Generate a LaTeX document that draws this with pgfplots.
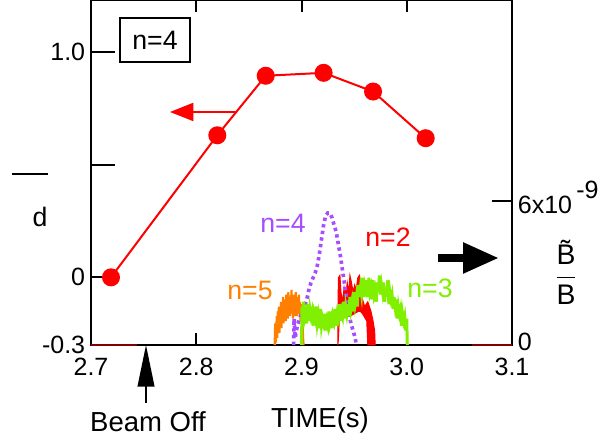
\documentclass[border=0pt]{standalone}
\usepackage{pgfplots}
\pgfplotsset{compat=1.18}
\usepackage{amsmath}
\usepackage{fontspec}
\setmainfont{Liberation Sans}
\usetikzlibrary{arrows.meta}
\definecolor{purp}{RGB}{166,77,255}
\definecolor{orng}{RGB}{255,128,0}
\definecolor{grn}{RGB}{128,240,0}
\definecolor{dred}{RGB}{128,0,0}
\pgfplotsset{base/.style={scale only axis, width=252.6pt, height=207pt,
  at={(54.6pt,59.4pt)}, anchor=south west, xmin=2.7, xmax=3.1, clip=false,
  axis line style={line width=1.2pt}, every tick/.style={line width=1.2pt, black},
  tick align=inside, tick label style={font=\fontsize{15}{18}\selectfont},
  /pgf/number format/assume math mode=true}}
\begin{document}
\begin{tikzpicture}
\useasboundingbox (0,0) rectangle (366pt,266.4pt);
% left axis (d)
\begin{axis}[base, ymin=-0.3, ymax=1.23, hide x axis, ytick pos=left,
  ytick={-0.3,0,1.0}, yticklabels={-0.3,0,1.0}, minor ytick={0.5},
  major tick length=14.4pt, minor tick length=14.4pt]
\addplot[red, line width=1.2pt, mark=*, mark size=4.8pt, mark options={solid}]
  coordinates {(2.719,0)(2.820,0.63)(2.866,0.894)(2.921,0.907)(2.968,0.824)(3.018,0.617)};
\end{axis}
% box and x ticks
\begin{axis}[base, ymin=0, ymax=1, ytick=\empty, xtick pos=both, major tick length=7pt,
  xtick={2.7,2.8,2.9,3.0,3.1}, xticklabels={2.7,2.8,2.9,3.0,3.1},
  xticklabel style={yshift=-4pt}]
\end{axis}
% right axis (B~/B)
\begin{axis}[base, ymin=0, ymax=14.375, hide x axis, ytick pos=right, yticklabel pos=right,
  ytick={0,6}, yticklabels={0,{6x10\,\raisebox{0.6em}{-9}}}, major tick length=12pt,
  yticklabel style={yshift=2pt}]
\addplot[dred, line width=1.5pt] coordinates {(2.7,0)(2.7437,0)};
\addplot[dred, line width=1.5pt] coordinates {(3.062,0)(3.1,0)};
% n=5
\addplot[orng, line width=1.3pt] coordinates {
(2.8745,0)(2.875,0.9)(2.8755,0.1)(2.876,0.6)(2.8765,1.2)(2.877,0.3)(2.8775,1.4)(2.878,0.8)
(2.8785,1.6)(2.879,0.5)(2.8795,1.3)(2.880,1.0)(2.8805,1.8)(2.881,0.7)(2.8815,1.5)(2.882,1.2)
(2.8825,2.0)(2.883,0.9)(2.8835,1.7)(2.884,1.3)(2.8845,1.9)(2.885,1.0)(2.8855,2.1)(2.886,1.5)
(2.8865,1.8)(2.887,1.1)(2.8875,2.2)(2.888,1.4)(2.8885,1.7)(2.889,1.2)(2.8895,2.0)(2.890,1.6)
(2.8905,2.3)(2.891,1.3)(2.8915,1.9)(2.892,1.1)(2.8925,2.1)(2.893,1.4)(2.8935,1.8)(2.894,1.2)
(2.8945,2.2)(2.895,1.5)(2.8955,1.9)(2.896,1.2)(2.8965,2.0)(2.897,1.6)(2.8975,2.1)(2.898,1.3)
(2.8985,1.8)(2.899,1.0)(2.8995,1.7)(2.900,1.2)(2.9005,1.6)(2.901,0.9)(2.9015,0.3)(2.902,0)};
% n=2
\addplot[red, fill=red, line width=0.6pt] coordinates {
(2.9345,0)(2.935,2.8)(2.9365,2.9)(2.9375,2.2)(2.939,1.8)(2.9405,2.4)(2.942,2.1)(2.9435,2.6)
(2.945,2.2)(2.946,2.9)(2.9475,2.6)(2.949,2.2)(2.9505,2.5)(2.952,2.3)(2.9535,2.8)(2.955,2.9)
(2.9565,2.4)(2.958,1.9)(2.960,1.6)(2.963,1.8)(2.966,1.4)(2.968,1.0)(2.9695,0.6)(2.970,0)
(2.963,0)(2.962,1.0)(2.958,1.3)(2.956,1.4)(2.954,1.4)(2.950,1.3)(2.946,1.2)(2.942,1.2)
(2.938,1.3)(2.936,1.1)(2.935,0.2)(2.9345,0)};
% n=4
\addplot[purp, line width=2.2pt, dash pattern=on 2pt off 2pt] coordinates {
(2.8925,0)(2.893,1.1)(2.894,0.3)(2.896,0.8)(2.899,1.2)(2.902,1.5)(2.905,1.9)(2.907,2.3)
(2.909,2.6)(2.911,2.8)(2.913,3.0)(2.915,3.3)(2.917,3.8)(2.919,4.4)(2.921,5.0)(2.923,5.4)
(2.925,5.5)(2.927,5.5)(2.929,5.3)(2.931,5.0)(2.933,4.7)(2.935,4.2)(2.937,3.7)(2.939,3.1)
(2.941,2.5)(2.943,1.9)(2.945,1.3)(2.947,0.9)(2.949,0.6)(2.951,0.3)(2.952,0)};
% n=3
\addplot[grn, line width=1.8pt] coordinates {
(2.900,0)(2.9005,1.6)(2.901,1.2)(2.902,1.8)(2.903,1.1)(2.904,1.3)(2.905,0.9)(2.906,1.7)
(2.907,1.0)(2.908,1.5)(2.909,1.2)(2.910,1.4)(2.911,0.8)(2.912,1.3)(2.913,1.1)(2.914,1.6)
(2.915,0.9)(2.916,1.2)(2.917,0.7)(2.918,1.5)(2.919,0.8)(2.920,1.1)(2.921,0.9)(2.922,1.3)
(2.923,0.6)(2.924,1.0)(2.925,0.8)(2.926,1.4)(2.927,0.9)(2.928,1.1)(2.929,0.7)(2.930,1.2)
(2.931,1.0)(2.932,1.5)(2.933,0.8)(2.934,1.3)(2.935,1.1)(2.936,1.7)(2.937,1.0)(2.938,1.4)
(2.939,1.2)(2.940,1.8)(2.941,1.1)(2.942,1.6)(2.943,1.3)(2.944,1.7)(2.945,1.2)(2.946,2.0)
(2.947,1.5)(2.948,1.8)(2.949,1.4)(2.950,2.2)(2.951,1.7)(2.952,2.0)(2.953,1.6)(2.954,2.5)
(2.955,2.0)(2.956,2.4)(2.957,2.1)(2.958,2.8)(2.959,2.0)(2.960,2.5)(2.961,2.3)(2.962,2.7)
(2.963,2.0)(2.964,2.8)(2.965,2.2)(2.966,2.4)(2.967,1.9)(2.968,2.7)(2.969,2.1)(2.970,2.3)
(2.971,1.8)(2.972,2.6)(2.973,2.2)(2.974,2.9)(2.975,2.1)(2.976,2.5)(2.977,2.2)(2.978,2.6)
(2.979,1.8)(2.980,2.4)(2.981,2.0)(2.982,2.7)(2.983,1.7)(2.984,2.2)(2.985,1.9)(2.986,2.1)
(2.987,1.5)(2.988,2.0)(2.989,1.6)(2.990,1.9)(2.991,1.1)(2.992,1.6)(2.993,1.3)(2.994,1.5)
(2.995,0.8)(2.996,1.3)(2.997,1.0)(2.998,1.2)(2.999,0.6)(3.000,1.1)(3.0005,0)};
\end{axis}
% annotations in pixel coordinates
\begin{scope}[x=0.6pt, y=-0.6pt, shift={(0pt,266.4pt)}]
\node[draw, line width=0.9pt, minimum width=42pt, minimum height=26.4pt, inner sep=0pt,
  font=\fontsize{16}{19}\selectfont] at (155,40) {n=4};
\draw[red, line width=1.2pt, -{Triangle[length=14pt, width=10.8pt]}] (237,112) -- (170,112);
\draw[black, line width=5pt, -{Triangle[length=21.6pt, width=17.4pt]}] (438,258) -- (499,258);
\draw[black, line width=1.2pt, -{Triangle[length=25pt, width=10pt]}] (146,403) -- (146,345);
\node[font=\fontsize{16.5}{19}\selectfont] at (148,422) {Beam Off};
\node[font=\fontsize{16.5}{19}\selectfont] at (320,420) {TIME(s)};
\node[purp, font=\fontsize{16}{19}\selectfont] at (283,223) {n=4};
\node[red, font=\fontsize{16}{19}\selectfont] at (388,237) {n=2};
\node[orng, font=\fontsize{16}{19}\selectfont] at (250,290) {n=5};
\node[grn, font=\fontsize{16}{19}\selectfont] at (430,288) {n=3};
\node[font=\fontsize{16}{19}\selectfont] at (40,217) {d};
\draw[line width=1.2pt] (12,174) -- (48,174);
\node[font=\fontsize{17}{20}\selectfont] at (566,272) {$\dfrac{\text{\~{B}}}{\text{B}}$};
\end{scope}
\end{tikzpicture}
\end{document}
